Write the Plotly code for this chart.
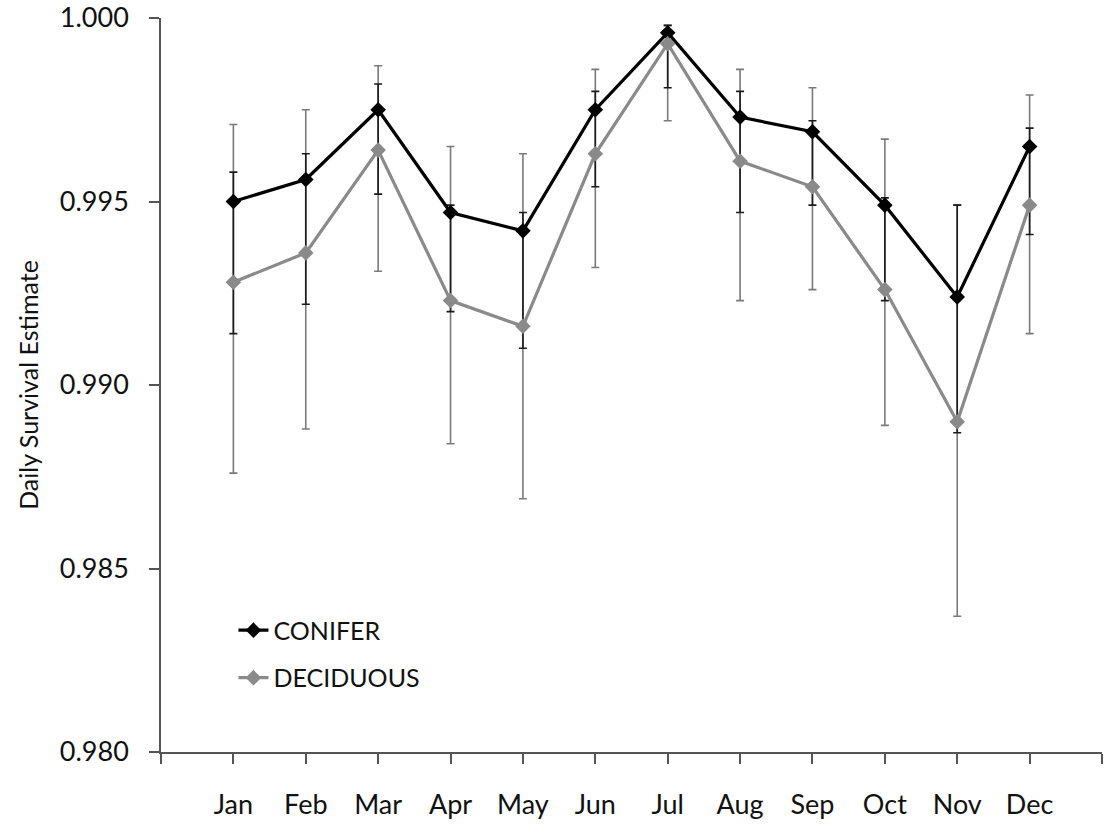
import plotly.graph_objects as go

# Monthly daily-survival estimates with confidence limits by nest habitat
months = ["Jan", "Feb", "Mar", "Apr", "May", "Jun",
          "Jul", "Aug", "Sep", "Oct", "Nov", "Dec"]
month_pos = list(range(1, 13))

conifer = [0.9950, 0.9956, 0.9975, 0.9947, 0.9942, 0.9975,
           0.9996, 0.9973, 0.9969, 0.9949, 0.9924, 0.9965]
conifer_upper = [0.9958, 0.9963, 0.9982, 0.9949, 0.9947, 0.9980,
                 0.9998, 0.9980, 0.9972, 0.9951, 0.9949, 0.9970]
conifer_lower = [0.9914, 0.9922, 0.9952, 0.9920, 0.9910, 0.9954,
                 0.9981, 0.9947, 0.9949, 0.9923, 0.9887, 0.9941]

deciduous = [0.9928, 0.9936, 0.9964, 0.9923, 0.9916, 0.9963,
             0.9993, 0.9961, 0.9954, 0.9926, 0.9890, 0.9949]
deciduous_upper = [0.9971, 0.9975, 0.9987, 0.9965, 0.9963, 0.9986,
                   0.9998, 0.9986, 0.9981, 0.9967, 0.9949, 0.9979]
deciduous_lower = [0.9876, 0.9888, 0.9931, 0.9884, 0.9869, 0.9932,
                   0.9972, 0.9923, 0.9926, 0.9889, 0.9837, 0.9914]

y_ticks = [0.980, 0.985, 0.990, 0.995, 1.000]

FONT = "Lato"
AXIS_COLOR = "#555555"
BLACK = "#000000"
GREY = "#8a8a8a"


def plus(upper, mid):
    return [u - m for u, m in zip(upper, mid)]


def minus(lower, mid):
    return [m - l for l, m in zip(lower, mid)]


fig = go.Figure()

# deciduous confidence limits (drawn first so the conifer bars sit on top)
fig.add_trace(go.Scatter(
    x=month_pos, y=deciduous, mode="markers",
    marker=dict(color="rgba(0,0,0,0)", size=1),
    error_y=dict(type="data", symmetric=False,
                 array=plus(deciduous_upper, deciduous),
                 arrayminus=minus(deciduous_lower, deciduous),
                 color="#7a7a7a", thickness=1.6, width=4),
    showlegend=False, hoverinfo="skip",
))

# conifer series with its limits
fig.add_trace(go.Scatter(
    x=month_pos, y=conifer, mode="lines+markers", name="CONIFER",
    legendgroup="conifer",
    line=dict(color=BLACK, width=3.2),
    marker=dict(symbol="diamond", size=12, color=BLACK),
    error_y=dict(type="data", symmetric=False,
                 array=plus(conifer_upper, conifer),
                 arrayminus=minus(conifer_lower, conifer),
                 color="#1a1a1a", thickness=1.6, width=4),
))

# deciduous series line and markers
fig.add_trace(go.Scatter(
    x=month_pos, y=deciduous, mode="lines+markers", name="DECIDUOUS",
    legendgroup="deciduous",
    line=dict(color=GREY, width=3.2),
    marker=dict(symbol="diamond", size=12, color=GREY),
))

fig.update_layout(
    width=1109, height=825,
    margin=dict(l=161, r=7, t=18, b=73, autoexpand=False),
    paper_bgcolor="white", plot_bgcolor="white",
    font=dict(family=FONT, size=27, color="#111111"),
    legend=dict(x=0.077, y=0.197, xanchor="left", yanchor="top",
                bgcolor="rgba(0,0,0,0)", font=dict(size=25),
                tracegroupgap=12, itemwidth=30),
)

fig.update_xaxes(
    range=[0, 13],
    tickmode="array",
    tickvals=list(range(0, 14)),
    ticktext=[""] + months + [""],
    ticks="outside", ticklen=10, tickwidth=1.5, tickcolor=AXIS_COLOR,
    showline=True, linecolor=AXIS_COLOR, linewidth=1.5,
    showgrid=False, zeroline=False, automargin=False,
    ticklabelstandoff=18,
    tickfont=dict(size=27),
)

fig.update_yaxes(
    range=[0.980, 1.000],
    tickmode="array", tickvals=y_ticks,
    tickformat=".3f",
    ticks="outside", ticklen=10, tickwidth=1.5, tickcolor=AXIS_COLOR,
    showline=True, linecolor=AXIS_COLOR, linewidth=1.5,
    showgrid=False, zeroline=False, automargin=False,
    ticklabelstandoff=15,
    tickfont=dict(size=27),
    title=dict(text="Daily Survival Estimate", font=dict(size=25), standoff=14),
)

fig.write_html("out.html")
